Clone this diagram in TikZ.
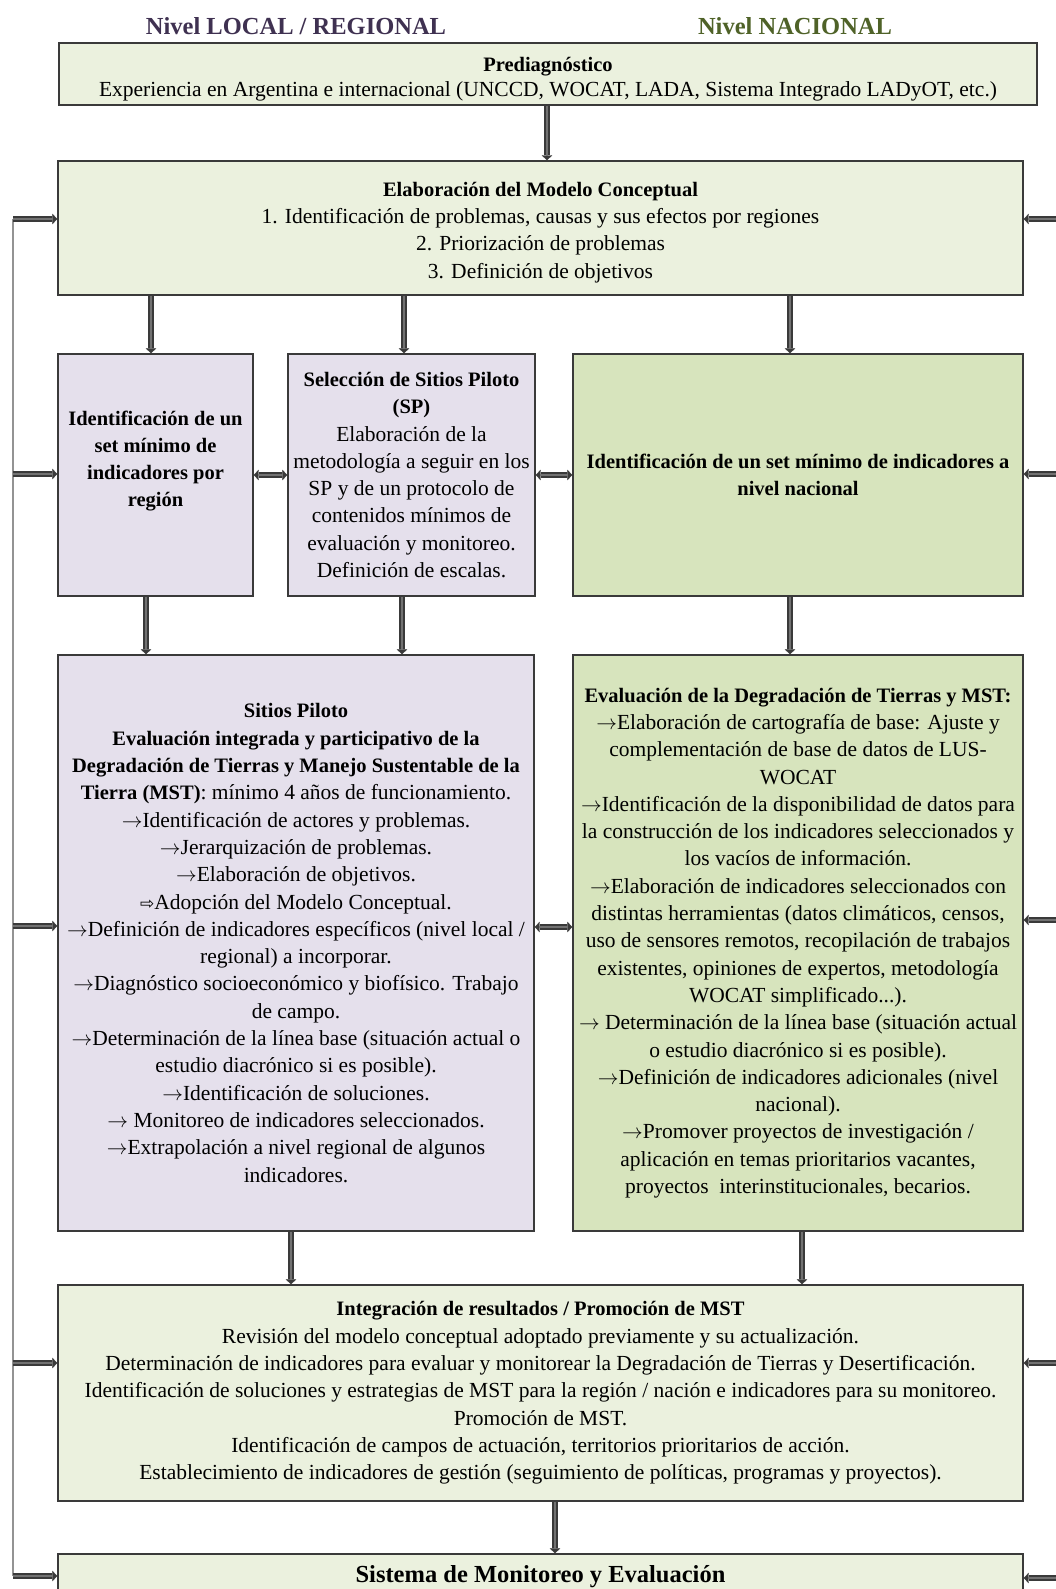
\documentclass[tikz,border=0pt]{standalone}
\usepackage{fontspec}
\setmainfont{Liberation Serif}
\newfontfamily\symfont{DejaVu Sans}
\usetikzlibrary{arrows.meta}

\definecolor{lightgreen}{HTML}{EBF1DE}
\definecolor{midgreen}{HTML}{D7E4BD}
\definecolor{lavender}{HTML}{E5E0EC}
\definecolor{edgegray}{HTML}{3A3A3A}
\definecolor{shaftgray}{HTML}{727272}
\definecolor{localcol}{HTML}{3F3151}
\definecolor{nacioncol}{HTML}{4F6228}

% list arrows and bold headings inside the boxes
\newcommand\rarr{{\fontsize{19.5}{27.3}\selectfont$\rightarrow$}}
\newcommand\warr{{\symfont\fontsize{17}{27.3}\selectfont ⇨}}
\newcommand\ttl[1]{{\fontsize{20.5}{27.3}\selectfont\bfseries #1}}

\begin{document}
\begin{tikzpicture}[x=1pt,y=-1pt,
  every node/.style={font=\fontsize{21.5}{27.3}\selectfont},
  hdr/.style={font=\fontsize{24.5}{28}\selectfont\bfseries, inner sep=0pt},
  box/.style={draw=edgegray, line width=1.3pt, inner sep=0pt, align=center},
  txt/.style={inner sep=0pt, align=center},
  arr/.style={line width=2.8pt, draw=shaftgray, shorten >=4.5pt,
    preaction={draw=edgegray, line width=5.4pt, shorten >=0pt,
      -{Triangle[length=5pt,width=10.5pt,line width=0.4pt]}}},
  darr/.style={line width=2.8pt, draw=shaftgray, shorten >=4.5pt, shorten <=4.5pt,
    preaction={draw=edgegray, line width=5.4pt, shorten >=0pt, shorten <=0pt,
      {Triangle[length=5pt,width=10.5pt,line width=0.4pt]}-{Triangle[length=5pt,width=10.5pt,line width=0.4pt]}}},
  fb/.style={draw=gray!85, line width=2.4pt}
]
\useasboundingbox (0,0) rectangle (1056,1589);
\clip (0,0) rectangle (1056,1589);

% column headings
\node[hdr, text=localcol] (hlocal) at (296,26) {Nivel LOCAL / REGIONAL};
\node[hdr, text=nacioncol] (hnac) at (795,26) {Nivel NACIONAL};

% boxes
\node[box, fill=lightgreen, minimum width=978pt, minimum height=62pt] (prediag) at (548,74)
  {\rule{0pt}{24pt}\ttl{Prediagnóstico}\\[-2pt]Experiencia en Argentina e internacional (UNCCD, WOCAT, LADA, Sistema Integrado LADyOT, etc.)};

\node[box, fill=lightgreen, minimum width=965pt, minimum height=134pt] (elab) at (540.5,228)
  {\rule{0pt}{23pt}\ttl{Elaboración del Modelo Conceptual}\\
   1. Identificación de problemas, causas y sus efectos por regiones\\
   2. Priorización de problemas\\
   3. Definición de objetivos};

\node[box, fill=lavender, minimum width=195pt, minimum height=242pt] (regind) at (155.5,475) {};
\node[txt, font=\fontsize{20.5}{27.3}\selectfont\bfseries] (regindtxt) at (155.5,461)
  {Identificación de un\\set mínimo de\\indicadores por\\región};

\node[box, fill=lavender, minimum width=247pt, minimum height=242pt] (sitsel) at (411.5,475)
  {\ttl{Selección de Sitios Piloto}\\\ttl{(SP)}\\
   Elaboración de la\\
   metodología a seguir en los\\
   SP y de un protocolo de\\
   contenidos mínimos de\\
   evaluación y monitoreo.\\
   Definición de escalas.};

\node[box, fill=midgreen, minimum width=450pt, minimum height=242pt] (nacind) at (798,475)
  {\ttl{Identificación de un set mínimo de indicadores a}\\\ttl{nivel nacional}};

\node[box, fill=lavender, minimum width=476pt, minimum height=576pt] (piloto) at (296,943)
  {\ttl{Sitios Piloto}\\
   \ttl{Evaluación integrada y participativo de la}\\
   \ttl{Degradación de Tierras y Manejo Sustentable de la}\\
   \ttl{Tierra (MST)}: mínimo 4 años de funcionamiento.\\
   \rarr Identificación de actores y problemas.\\
   \rarr Jerarquización de problemas.\\
   \rarr Elaboración de objetivos.\\
   \warr Adopción del Modelo Conceptual.\\
   \rarr Definición de indicadores específicos (nivel local /\\
   regional) a incorporar.\\
   \rarr Diagnóstico socioeconómico y biofísico. Trabajo\\
   de campo.\\
   \rarr Determinación de la línea base (situación actual o\\
   estudio diacrónico si es posible).\\
   \rarr Identificación de soluciones.\\
   \rarr\ Monitoreo de indicadores seleccionados.\\
   \rarr Extrapolación a nivel regional de algunos\\
   indicadores.};

\node[box, fill=midgreen, minimum width=450pt, minimum height=576pt] (evalnac) at (798,943)
  {\ttl{Evaluación de la Degradación de Tierras y MST:}\\
   \rarr Elaboración de cartografía de base: Ajuste y\\
   complementación de base de datos de LUS-\\
   WOCAT\\
   \rarr Identificación de la disponibilidad de datos para\\
   la construcción de los indicadores seleccionados y\\
   los vacíos de información.\\
   \rarr Elaboración de indicadores seleccionados con\\
   distintas herramientas (datos climáticos, censos,\\
   uso de sensores remotos, recopilación de trabajos\\
   existentes, opiniones de expertos, metodología\\
   WOCAT simplificado...).\\
   \rarr\ Determinación de la línea base (situación actual\\
   o estudio diacrónico si es posible).\\
   \rarr Definición de indicadores adicionales (nivel\\
   nacional).\\
   \rarr Promover proyectos de investigación /\\
   aplicación en temas prioritarios vacantes,\\
   proyectos\ \ interinstitucionales, becarios.};

\node[box, fill=lightgreen, minimum width=965pt, minimum height=216pt] (integ) at (540.5,1393)
  {\ttl{Integración de resultados / Promoción de MST}\\
   Revisión del modelo conceptual adoptado previamente y su actualización.\\
   Determinación de indicadores para evaluar y monitorear la Degradación de Tierras y Desertificación.\\
   Identificación de soluciones y estrategias de MST para la región / nación e indicadores para su monitoreo.\\
   Promoción de MST.\\
   Identificación de campos de actuación, territorios prioritarios de acción.\\
   Establecimiento de indicadores de gestión (seguimiento de políticas, programas y proyectos).};

\node[box, fill=lightgreen, minimum width=965pt, minimum height=46pt,
      font=\fontsize{24.5}{28}\selectfont\bfseries] (sme) at (540.5,1577)
  {Sistema de Monitoreo y Evaluación};

% columns of the vertical connectors
\coordinate (k1) at (547,0);
\coordinate (k2) at (151,0);
\coordinate (k3) at (404,0);
\coordinate (k4) at (790,0);
\coordinate (k5) at (146,0);
\coordinate (k6) at (402,0);
\coordinate (k7) at (291,0);
\coordinate (k8) at (802,0);
\coordinate (k9) at (555,0);

\draw[arr] (prediag.south -| k1) -- (elab.north -| k1);
\draw[arr] (elab.south -| k2) -- (regind.north -| k2);
\draw[arr] (elab.south -| k3) -- (sitsel.north -| k3);
\draw[arr] (elab.south -| k4) -- (nacind.north -| k4);
\draw[arr] (regind.south -| k5) -- (piloto.north -| k5);
\draw[arr] (sitsel.south -| k6) -- (piloto.north -| k6);
\draw[arr] (nacind.south -| k4) -- (evalnac.north -| k4);
\draw[arr] (piloto.south -| k7) -- (integ.north -| k7);
\draw[arr] (evalnac.south -| k8) -- (integ.north -| k8);
\draw[arr] (integ.south -| k9) -- (sme.north -| k9);

% links between neighbouring boxes
\coordinate (m1) at (0,475);
\coordinate (m2) at (0,927);
\draw[darr] (regind.east |- m1) -- (sitsel.west |- m1);
\draw[darr] (sitsel.east |- m1) -- (nacind.west |- m1);
\draw[darr] (piloto.east |- m2) -- (evalnac.west |- m2);

% feedback line on the left
\coordinate (L1) at (13,219);
\coordinate (L2) at (13,474);
\coordinate (L3) at (13,926);
\coordinate (L4) at (13,1363);
\coordinate (L5) at (13,1576);
\draw[fb] (L1) -- (L5);
\draw[arr] (L1) -- (L1 -| elab.west);
\draw[arr] (L2) -- (L2 -| regind.west);
\draw[arr] (L3) -- (L3 -| piloto.west);
\draw[arr] (L4) -- (L4 -| integ.west);
\draw[arr] (L5) -- (L5 -| sme.west);

% feedback entering from the right
\coordinate (R1) at (1058,219);
\coordinate (R2) at (1058,474);
\coordinate (R3) at (1058,920);
\coordinate (R4) at (1058,1363);
\coordinate (R5) at (1058,1578);
\draw[arr] (R1) -- (R1 -| elab.east);
\draw[arr] (R2) -- (R2 -| nacind.east);
\draw[arr] (R3) -- (R3 -| evalnac.east);
\draw[arr] (R4) -- (R4 -| integ.east);
\draw[arr] (R5) -- (R5 -| sme.east);
\end{tikzpicture}
\end{document}
